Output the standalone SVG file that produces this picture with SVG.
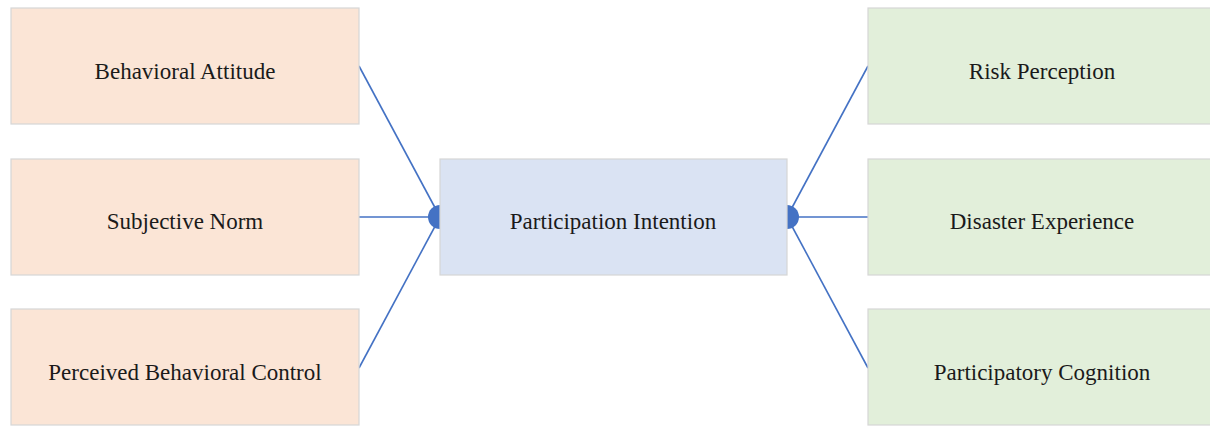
<svg xmlns="http://www.w3.org/2000/svg" width="1210" height="426" viewBox="0 0 1210 426">
  <style>
    .box { stroke: #d6d6d6; stroke-width: 1.2; }
    .src { fill: #fbe5d6; }
    .mid { fill: #dae3f3; }
    .ext { fill: #e2efda; }
    .label { font-family: "Liberation Serif", "Times New Roman", serif; font-size: 23px; fill: #1a1a1a; text-anchor: middle; }
    .link { stroke: #4472c4; stroke-width: 1.6; fill: none; }
    .cap { fill: #4472c4; }
  </style>
  <rect width="1210" height="426" fill="#ffffff"/>

  <!-- connectors (drawn under the boxes so the end caps read as half-discs) -->
  <g id="connectors">
    <line class="link" x1="359" y1="66" x2="440" y2="217"/>
    <line class="link" x1="359" y1="217" x2="440" y2="217"/>
    <line class="link" x1="359" y1="368" x2="440" y2="217"/>
    <line class="link" x1="868" y1="66" x2="787" y2="217"/>
    <line class="link" x1="868" y1="217" x2="787" y2="217"/>
    <line class="link" x1="868" y1="368" x2="787" y2="217"/>
    <circle class="cap" cx="440" cy="217" r="12"/>
    <circle class="cap" cx="787" cy="217" r="12"/>
  </g>

  <g id="behavioral-attitude">
    <rect class="box src" x="11" y="8" width="348" height="116"/>
    <text class="label" x="185" y="79">Behavioral Attitude</text>
  </g>
  <g id="subjective-norm">
    <rect class="box src" x="11" y="159" width="348" height="116"/>
    <text class="label" x="185" y="229">Subjective Norm</text>
  </g>
  <g id="perceived-behavioral-control">
    <rect class="box src" x="11" y="309" width="348" height="116"/>
    <text class="label" x="185" y="380">Perceived Behavioral Control</text>
  </g>

  <g id="participation-intention">
    <rect class="box mid" x="440" y="159" width="347" height="116"/>
    <text class="label" x="613" y="229">Participation Intention</text>
  </g>

  <g id="risk-perception">
    <rect class="box ext" x="868" y="8" width="348" height="116"/>
    <text class="label" x="1042" y="79">Risk Perception</text>
  </g>
  <g id="disaster-experience">
    <rect class="box ext" x="868" y="159" width="348" height="116"/>
    <text class="label" x="1042" y="229">Disaster Experience</text>
  </g>
  <g id="participatory-cognition">
    <rect class="box ext" x="868" y="309" width="348" height="116"/>
    <text class="label" x="1042" y="380">Participatory Cognition</text>
  </g>
</svg>
